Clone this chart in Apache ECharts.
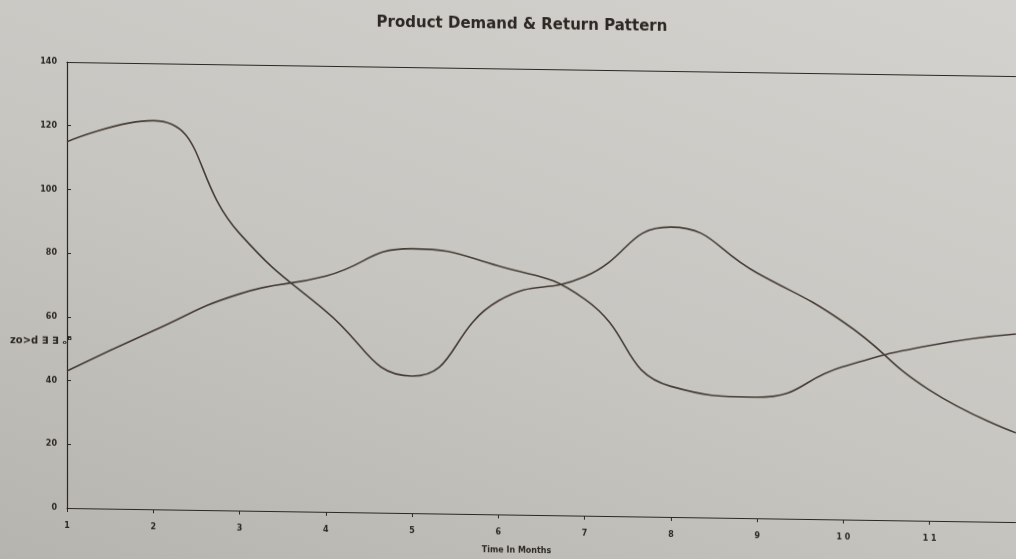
<!DOCTYPE html>
<html>
<head>
<meta charset="utf-8">
<script src="https://cdn.jsdelivr.net/npm/echarts@6/dist/echarts.min.js"></script>
<style>
html, body { margin: 0; padding: 0; width: 1016px; height: 559px; overflow: hidden;
  background: linear-gradient(20deg, #b6b4ae 0%, #c6c5c0 45%, #d3d2ce 100%); }
#chart { width: 1016px; height: 559px; transform-origin: 0 0; transform: skewY(0.85deg); }
</style>
</head>
<body>
<div id="chart"></div>
<script>
// months along the bottom (the print spaces out the two-digit ones)
var months = ['1', '2', '3', '4', '5', '6', '7', '8', '9', '1 0', '1 1', '1 2'];
// the two curves
var demand = [115, 122, 87, 63, 43, 67, 75, 91, 77, 62, 41, 28];
var returns = [43, 56, 68, 74, 83, 78, 68, 41, 38, 48, 55, 59];
var yMin = 0, yMax = 140, yStep = 20;

var ink = '#2c2723';
var lineInk = '#463c35';

var myc = echarts.init(document.getElementById('chart'));
var options = {
    backgroundColor: 'transparent',
    animation: false,
    title: {
        text: 'Product Demand & Return Pattern',
        left: 517, textAlign: 'center', top: 5,
        textStyle: { fontFamily: 'DejaVu Sans', fontWeight: 'bold', fontSize: 15, color: ink }
    },
    grid: { left: 67, right: 0, top: 61, bottom: 52 },
    graphic: [{
        type: 'text', left: 10, top: 335,
        style: { text: 'zo>d ∃ ∃ ₒᴮ', font: 'bold 10px "DejaVu Sans"', fill: ink }
    }],
    xAxis: [{
        type: 'category',
        data: months,
        boundaryGap: false,
        axisLine: { lineStyle: { color: ink, width: 1.2 } },
        axisTick: { inside: false, length: 4, lineStyle: { color: ink } },
        axisLabel: { margin: 14, showMaxLabel: false, fontFamily: 'DejaVu Sans', fontWeight: 'bold', fontSize: 8, color: ink },
        name: 'Time In Months',
        nameLocation: 'middle',
        nameGap: 32,
        nameTextStyle: { fontFamily: 'DejaVu Sans', fontWeight: 'bold', fontSize: 8, color: ink, padding: [0, 50, 0, 0] }
    }, {
        type: 'category',
        data: months,
        boundaryGap: false,
        position: 'top',
        axisLine: { lineStyle: { color: ink, width: 1.2 } },
        axisTick: { show: false },
        axisLabel: { show: false }
    }],
    yAxis: {
        type: 'value',
        min: yMin, max: yMax, interval: yStep,
        splitLine: { show: false },
        axisLine: { show: true, lineStyle: { color: ink, width: 1.2 } },
        axisTick: { show: true, inside: true, length: 4, lineStyle: { color: ink } },
        axisLabel: { margin: 10, fontFamily: 'DejaVu Sans', fontWeight: 'bold', fontSize: 8, color: ink }
    },
    series: [{
        name: 'Demand',
        type: 'line',
        data: demand,
        smooth: 0.5,
        symbol: 'none',
        lineStyle: { color: lineInk, width: 1.6 }
    }, {
        name: 'Returns',
        type: 'line',
        data: returns,
        smooth: 0.5,
        symbol: 'none',
        lineStyle: { color: lineInk, width: 1.6 }
    }]
};
myc.setOption(options);
</script>
</body>
</html>
